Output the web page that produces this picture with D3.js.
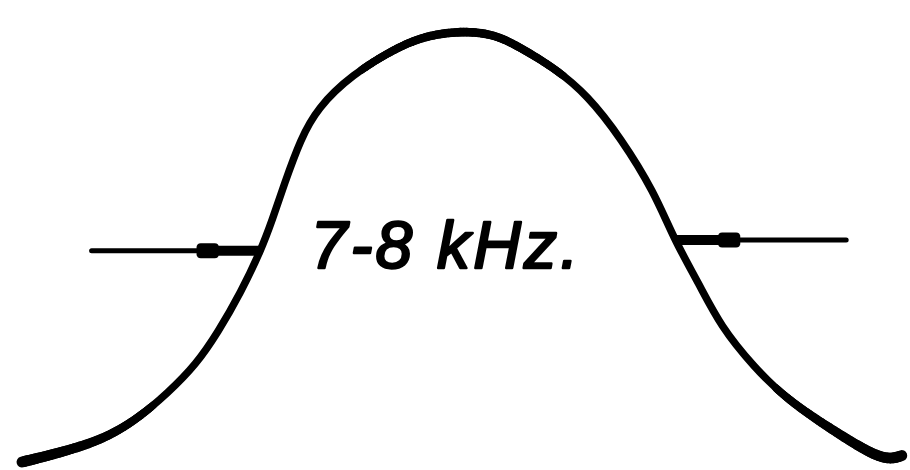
<!DOCTYPE html>
<html>
<head>
<meta charset="utf-8">
<script src="https://cdn.jsdelivr.net/npm/d3@7"></script>
<style>
  html, body { margin: 0; padding: 0; background: #fff; }
</style>
</head>
<body>
<div id="chart"></div>
<script>
// response curve, relative frequency (-1..1) vs relative level (0..1)
var freq = [-1.0, -0.971, -0.910, -0.819, -0.740, -0.668, -0.605, -0.555, -0.503, -0.458,
            -0.431, -0.406, -0.367, -0.329, -0.254, -0.141, -0.073, 0.0,
            0.073, 0.134, 0.209, 0.284, 0.360, 0.435, 0.480, 0.537, 0.586, 0.661,
            0.736, 0.849, 0.939, 0.977, 1.0];
var level = [0.0, 0.007, 0.023, 0.051, 0.098, 0.161, 0.226, 0.301, 0.394, 0.490,
             0.564, 0.641, 0.751, 0.821, 0.897, 0.967, 0.991, 1.0,
             0.993, 0.960, 0.914, 0.851, 0.751, 0.627, 0.517, 0.413, 0.315, 0.221,
             0.145, 0.068, 0.012, 0.007, 0.016];

// bandwidth arrows: tail, tip, level
var arrowFrom = [-0.842, 0.871];
var arrowTo = [-0.458, 0.485];
var arrowLevel = [0.49, 0.515];

var label = "7-8 kHz.";

var width = 910, height = 470;

var svg = d3.select('#chart')
  .append('svg')
  .attr('width', width)
  .attr('height', height);

var x = d3.scaleLinear().domain([-1, 1]).range([22, 903]);
var y = d3.scaleLinear().domain([0, 1]).range([462, 31]);

var pts = freq.map(function(f, i) { return [f, level[i]]; });

var line = d3.line()
  .x(function(d) { return x(d[0]); })
  .y(function(d) { return y(d[1]); })
  .curve(d3.curveBasis);

// main curve
var curve = svg.append('path')
  .attr('d', line(pts))
  .attr('fill', 'none')
  .attr('stroke', '#000')
  .attr('stroke-width', 7.5)
  .attr('stroke-linecap', 'round');

// heavier pen toward the feet and slightly over the top:
// resample the same path and lay wider pieces on it
var node = curve.node(), L = node.getTotalLength();
var samples = d3.range(0, L + 1, 3).map(function(s) { return node.getPointAtLength(Math.min(s, L)); });
var peakX = x(0);
for (var i = 1; i < samples.length; i++) {
  var s = i * 3;
  var fromEnd = Math.min(s, L - s);
  var w = 7.5 + 3.5 * Math.max(0, 1 - fromEnd / 150) +
          1.2 * Math.max(0, 1 - Math.abs(samples[i].x - peakX) / 110);
  if (w <= 7.6) continue;
  svg.append('line')
    .attr('x1', samples[i - 1].x).attr('y1', samples[i - 1].y)
    .attr('x2', samples[i].x).attr('y2', samples[i].y)
    .attr('stroke', '#000')
    .attr('stroke-width', w)
    .attr('stroke-linecap', 'round');
}

// arrows
arrowFrom.forEach(function(f, i) {
  var x0 = x(f), x1 = x(arrowTo[i]), yy = y(arrowLevel[i]);
  var dir = x1 > x0 ? 1 : -1;
  var shank = 64;
  svg.append('line')
    .attr('x1', x0).attr('x2', x1)
    .attr('y1', yy).attr('y2', yy)
    .attr('stroke', '#000')
    .attr('stroke-width', 5)
    .attr('stroke-linecap', 'round');
  svg.append('line')
    .attr('x1', x1 - dir * shank).attr('x2', x1)
    .attr('y1', yy).attr('y2', yy)
    .attr('stroke', '#000')
    .attr('stroke-width', 10);
  svg.append('rect')
    .attr('x', dir > 0 ? x1 - shank : x1 + shank - 22)
    .attr('y', yy - 7.5)
    .attr('width', 22)
    .attr('height', 15)
    .attr('rx', 4)
    .attr('fill', '#000');
});

// label
svg.append('text')
  .attr('x', x(-0.345))
  .attr('y', y(0.45))
  .attr('font-family', 'Liberation Sans, Arial, sans-serif')
  .attr('font-style', 'italic')
  .attr('font-size', 66)
  .attr('fill', '#000')
  .attr('stroke', '#000')
  .attr('stroke-width', 2.4)
  .attr('stroke-linejoin', 'round')
  .attr('textLength', 268)
  .attr('lengthAdjust', 'spacing')
  .text(label);
</script>
</body>
</html>
